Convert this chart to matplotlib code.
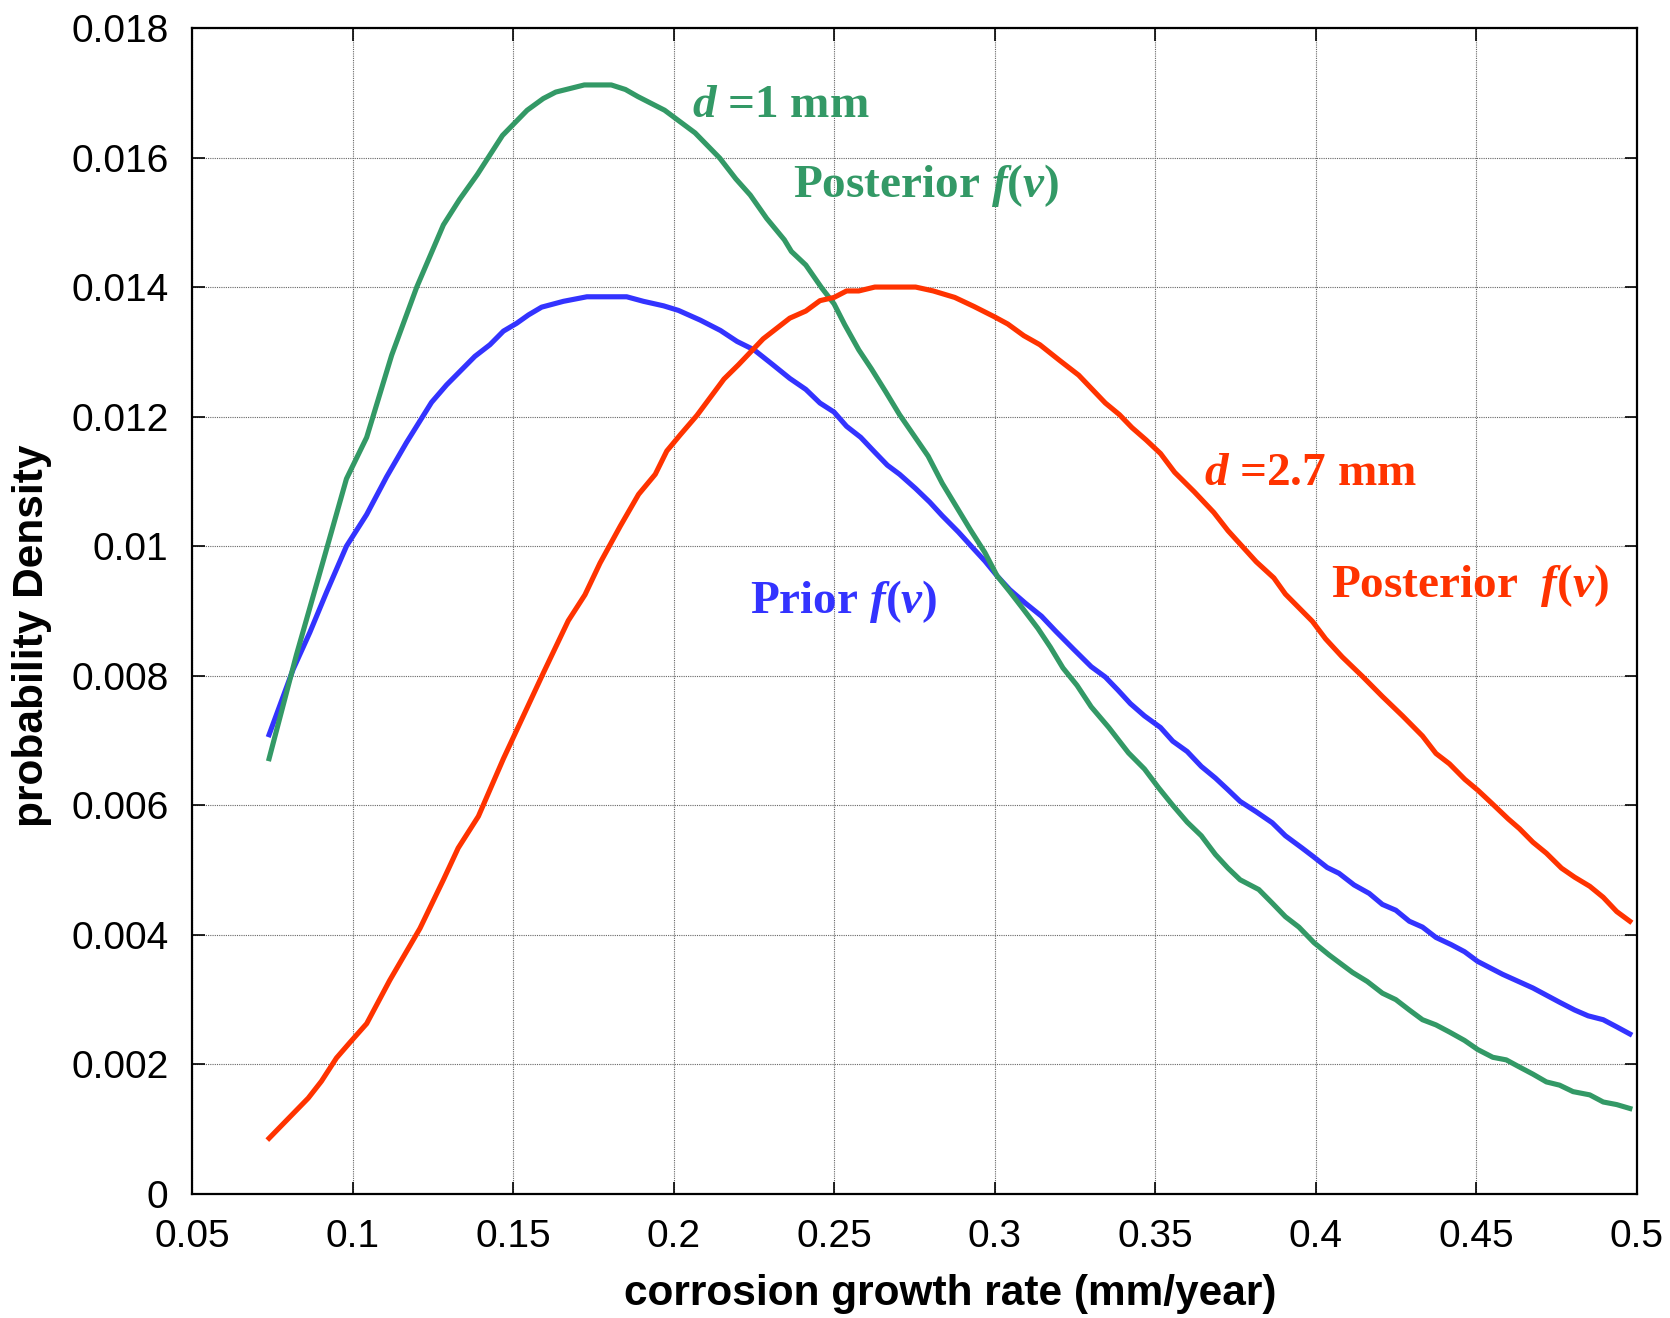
import numpy as np
import matplotlib
matplotlib.use('Agg')
import matplotlib.pyplot as plt

plt.rcParams['mathtext.fontset'] = 'custom'
plt.rcParams['mathtext.it'] = 'Liberation Serif:italic:bold'
plt.rcParams['mathtext.rm'] = 'Liberation Serif:bold'
plt.rcParams['mathtext.bf'] = 'Liberation Serif:bold'

# prior f(v)
prior_x = [0.074, 0.0815, 0.0867, 0.0919, 0.0981, 0.1044, 0.1106, 0.1168, 0.1246, 0.1293,
           0.1381, 0.1428, 0.147, 0.1511, 0.1548, 0.1589, 0.1657, 0.173, 0.1854, 0.1906,
           0.1969, 0.2015, 0.2083, 0.2146, 0.2198, 0.2251, 0.2307, 0.2362, 0.2412, 0.2456,
           0.25, 0.2539, 0.2583, 0.2627, 0.2666, 0.2704, 0.2754, 0.2798, 0.2837, 0.2887,
           0.2931, 0.297, 0.3008, 0.3047, 0.3096, 0.3146, 0.319, 0.3246, 0.3301, 0.3345,
           0.3384, 0.3423, 0.3467, 0.3517, 0.3555, 0.36, 0.3644, 0.3688, 0.3727, 0.3765,
           0.3815, 0.3865, 0.3906, 0.3958, 0.3995, 0.4036, 0.4073, 0.412, 0.4167, 0.4208,
           0.425, 0.4292, 0.4333, 0.4375, 0.4422, 0.4464, 0.4505, 0.4583, 0.4677, 0.476,
           0.4807, 0.4849, 0.4896, 0.4938, 0.4979]
prior_y = [0.00709, 0.0081, 0.00867, 0.00929, 0.0100, 0.01049, 0.01107, 0.0116, 0.01222, 0.01249,
           0.01293, 0.01311, 0.01332, 0.01344, 0.01357, 0.01369, 0.01378, 0.01385, 0.01385, 0.01378,
           0.01371, 0.01364, 0.01349, 0.01333, 0.01316, 0.01303, 0.01281, 0.01259, 0.01242, 0.01221,
           0.01207, 0.01185, 0.01168, 0.01145, 0.01125, 0.01111, 0.01089, 0.01068, 0.01047, 0.01022,
           0.00998, 0.00977, 0.00954, 0.00933, 0.00912, 0.00892, 0.00869, 0.00841, 0.00814, 0.00798,
           0.00778, 0.00757, 0.00738, 0.0072, 0.00699, 0.00683, 0.0066, 0.00642, 0.00624, 0.00606,
           0.0059, 0.00573, 0.00553, 0.00534, 0.0052, 0.00504, 0.00495, 0.00477, 0.00464, 0.00447,
           0.00438, 0.00421, 0.00412, 0.00396, 0.00385, 0.00374, 0.00359, 0.00339, 0.00318, 0.00296,
           0.00284, 0.00275, 0.00269, 0.00258, 0.00247]

# posterior f(v), d = 1 mm
post1_x = [0.074, 0.0825, 0.0909, 0.0981, 0.1044, 0.1122, 0.12, 0.1283, 0.1333, 0.1389,
           0.1467, 0.1544, 0.1594, 0.1633, 0.1722, 0.1806, 0.185, 0.1889, 0.1972, 0.2067,
           0.2144, 0.2194, 0.2239, 0.229, 0.2345, 0.2367, 0.2412, 0.2461, 0.25, 0.2533,
           0.2577, 0.2616, 0.266, 0.2704, 0.2743, 0.2793, 0.2837, 0.2881, 0.2925, 0.297,
           0.3008, 0.3047, 0.3086, 0.3135, 0.3174, 0.3213, 0.3257, 0.3301, 0.3356, 0.3417,
           0.3467, 0.3511, 0.3555, 0.36, 0.3644, 0.3688, 0.3727, 0.3765, 0.3823, 0.3865,
           0.3906, 0.3948, 0.3995, 0.4042, 0.4115, 0.4161, 0.4208, 0.425, 0.4292, 0.4333,
           0.4375, 0.4417, 0.4464, 0.4505, 0.4552, 0.4594, 0.4635, 0.4677, 0.4719, 0.476,
           0.4802, 0.4854, 0.4896, 0.4938, 0.4979]
post1_y = [0.00672, 0.00832, 0.00978, 0.01104, 0.01168, 0.01295, 0.014, 0.01496, 0.01535, 0.01574,
           0.01634, 0.01673, 0.01691, 0.01701, 0.01712, 0.01712, 0.01705, 0.01694, 0.01673, 0.01638,
           0.01599, 0.01567, 0.01542, 0.01506, 0.01473, 0.01455, 0.01434, 0.01399, 0.01374, 0.01342,
           0.01303, 0.01274, 0.01239, 0.01203, 0.01175, 0.01139, 0.01097, 0.01061, 0.01025, 0.0099,
           0.00954, 0.0093, 0.00905, 0.00873, 0.00844, 0.00812, 0.00785, 0.00752, 0.0072, 0.00681,
           0.00656, 0.00627, 0.006, 0.00574, 0.00553, 0.00524, 0.00503, 0.00485, 0.0047, 0.00449,
           0.00428, 0.00412, 0.00388, 0.00369, 0.00342, 0.00328, 0.0031, 0.003, 0.00284, 0.00269,
           0.00261, 0.0025, 0.00237, 0.00223, 0.00211, 0.00207, 0.00196, 0.00185, 0.00173, 0.00168,
           0.00158, 0.00153, 0.00142, 0.00138, 0.00132]

# posterior f(v), d = 2.7 mm
post27_x = [0.074, 0.0862, 0.0903, 0.095, 0.0992, 0.1044, 0.1116, 0.121, 0.1283, 0.1329,
            0.1392, 0.147, 0.1532, 0.1595, 0.1672, 0.1724, 0.1771, 0.1834, 0.1891, 0.1943,
            0.1979, 0.2021, 0.2073, 0.2157, 0.2202, 0.2279, 0.2362, 0.2412, 0.2456, 0.25,
            0.2539, 0.2577, 0.2627, 0.2754, 0.2809, 0.2876, 0.2936, 0.3, 0.3041, 0.3091,
            0.3141, 0.3202, 0.3262, 0.3345, 0.3389, 0.3428, 0.3472, 0.3517, 0.3561, 0.3622,
            0.3683, 0.3727, 0.3815, 0.387, 0.3906, 0.3948, 0.399, 0.4031, 0.4083, 0.4146,
            0.4208, 0.4271, 0.4333, 0.4375, 0.4417, 0.4465, 0.4506, 0.4547, 0.46, 0.4635,
            0.4677, 0.4719, 0.4766, 0.4807, 0.4854, 0.4896, 0.4938, 0.4979]
post27_y = [0.00086, 0.00148, 0.00174, 0.0021, 0.00234, 0.00263, 0.0033, 0.0041, 0.00485, 0.00534,
            0.00583, 0.00672, 0.00738, 0.00805, 0.00885, 0.00925, 0.00974, 0.01031, 0.0108, 0.01111,
            0.01147, 0.01172, 0.01202, 0.01258, 0.0128, 0.0132, 0.01352, 0.01363, 0.01379, 0.01384,
            0.01394, 0.01394, 0.014, 0.014, 0.01394, 0.01384, 0.0137, 0.01354, 0.01343, 0.01325,
            0.01311, 0.01287, 0.01264, 0.01221, 0.01203, 0.01183, 0.01164, 0.01143, 0.01114, 0.01084,
            0.01052, 0.01024, 0.00976, 0.00951, 0.00926, 0.00905, 0.00884, 0.00857, 0.00829, 0.00799,
            0.00768, 0.00738, 0.00707, 0.0068, 0.00664, 0.0064, 0.00623, 0.00604, 0.00579, 0.00564,
            0.00543, 0.00526, 0.00503, 0.00489, 0.00475, 0.00458, 0.00436, 0.00421]

x_ticks = [0.05, 0.1, 0.15, 0.2, 0.25, 0.3, 0.35, 0.4, 0.45, 0.5]
x_tick_labels = ['0.05', '0.1', '0.15', '0.2', '0.25', '0.3', '0.35', '0.4', '0.45', '0.5']
y_ticks = [0, 0.002, 0.004, 0.006, 0.008, 0.01, 0.012, 0.014, 0.016, 0.018]
y_tick_labels = ['0', '0.002', '0.004', '0.006', '0.008', '0.01', '0.012', '0.014', '0.016', '0.018']

green = '#339966'
blue = '#3333ff'
red = '#ff3300'

fig = plt.figure(figsize=(16.7, 13.18), dpi=100)
ax = fig.add_axes([0.115, 0.0941, 0.865, 0.8847])

ax.plot(prior_x, prior_y, color=blue, lw=3.7, zorder=3)
ax.plot(post1_x, post1_y, color=green, lw=3.7, zorder=3)
ax.plot(post27_x, post27_y, color=red, lw=3.7, zorder=3)

ax.set_xlim(0.05, 0.5)
ax.set_ylim(0, 0.018)
ax.set_xticks(x_ticks)
ax.set_xticklabels(x_tick_labels)
ax.set_yticks(y_ticks)
ax.set_yticklabels(y_tick_labels)
ax.tick_params(direction='in', length=9, width=1.2, top=True, right=True,
               labelsize=28)
ax.tick_params(axis='y', pad=17)
ax.tick_params(axis='x', pad=18)
for lab in ax.get_xticklabels() + ax.get_yticklabels():
    lab.set_family('Liberation Sans')
for s in ax.spines.values():
    s.set_linewidth(1.6)
ax.grid(True, color='#666666', linestyle=(0, (1, 1)), linewidth=0.8)

ax.set_xlabel('corrosion growth rate (mm/year)', family='Liberation Sans',
              fontweight='bold', fontsize=30.5)
ax.set_ylabel('probability Density', family='Liberation Sans',
              fontweight='bold', fontsize=30.5)
ax.xaxis.set_label_coords(0.525, -0.069)
ax.yaxis.set_label_coords(-0.097, 0.479)

tk = dict(family='Liberation Serif', fontweight='bold', fontsize=34, va='baseline')
ax.text(0.2057, 0.01662, r'$d$ =1 mm', color=green, **tk)
ax.text(0.2371, 0.01539, r'Posterior $f(v)$', color=green, **tk)
ax.text(0.2237, 0.00897, r'Prior $f(v)$', color=blue, **tk)
ax.text(0.3653, 0.01094, r'$d$ =2.7 mm', color=red, **tk)
ax.text(0.4049, 0.00921, r'Posterior  $f(v)$', color=red, **tk)

fig.savefig('out.png', dpi=100)
